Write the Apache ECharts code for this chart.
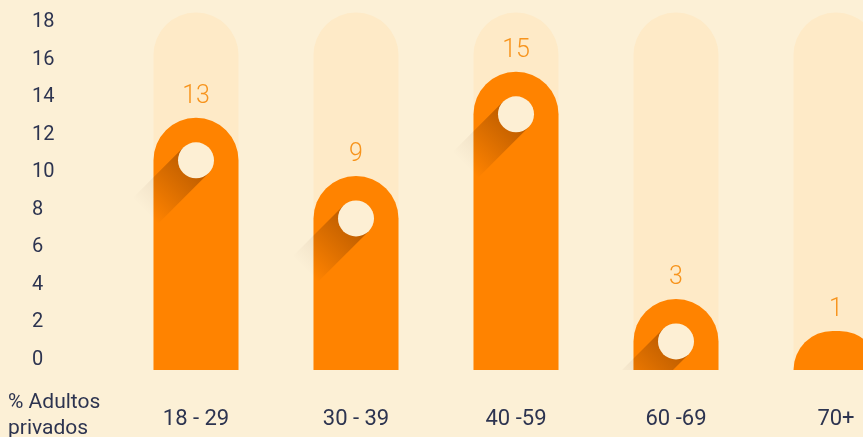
<!DOCTYPE html>
<html><head><meta charset="utf-8">
<script src="https://cdn.jsdelivr.net/npm/echarts@6/dist/echarts.min.js"></script>
<style>html,body{margin:0;padding:0;background:#fcf0d6}#c{width:863px;height:437px}</style>
</head><body><div id="c"></div>
<script>
const categories = ['18 - 29', '30 - 39', '40 -59', '60 -69', '70+'];
const barHeights = [12.9, 9.8, 15.35, 3.25, 1.55];
const valueLabels = ['13', '9', '15', '3', '1'];
const trackMax = 18.5;
const axisTitle = '% Adultos\nprivados';

const BAR_W = 85, DOT_R = 18;

function shadowPoly(cx, cy, L, alpha) {
  const k = Math.SQRT1_2;
  const p1 = [cx + DOT_R * k, cy + DOT_R * k], p2 = [cx - DOT_R * k, cy - DOT_R * k];
  const p3 = [p2[0] - L * k, p2[1] + L * k], p4 = [p1[0] - L * k, p1[1] + L * k];
  return {type: 'polygon', shape: {points: [p1, p2, p3, p4]}, style: {fill: {type: 'linear', x: cx, y: cy, x2: cx - L * k, y2: cy + L * k, global: true,
    colorStops: [{offset: 0, color: 'rgba(90,35,0,' + alpha + ')'}, {offset: 1, color: 'rgba(90,35,0,0)'}]}}};
}

function renderItem(params, api) {
  const i = api.value(0);
  const v = api.value(1);
  const base = api.coord([i, 0]);
  const cx = base[0];
  const bottom = base[1] + 10;
  const top = api.coord([i, v])[1];
  const trackTop = api.coord([i, trackMax])[1];
  const hw = BAR_W / 2;
  const children = [];
  children.push({type: 'rect', shape: {x: cx - hw, y: trackTop, width: BAR_W, height: bottom - trackTop, r: [hw, hw, 0, 0]}, style: {fill: '#feeac7'}});
  children.push({type: 'rect', shape: {x: cx - hw, y: top, width: BAR_W, height: bottom - top, r: [hw, hw, 0, 0]}, style: {fill: '#ff8300'}});
  const cy = top + hw;
  if (bottom - top > hw + DOT_R) {
    children.push({type: 'group', clipPath: {type: 'rect', shape: {x: cx - hw, y: top, width: BAR_W, height: bottom - top}},
      children: [shadowPoly(cx, cy, 72, 0.42)]});
    children.push({type: 'group', clipPath: {type: 'rect', shape: {x: cx - hw - 40, y: top, width: 40, height: bottom - top}},
      children: [shadowPoly(cx, cy, 72, 0.16)]});
    children.push({type: 'circle', shape: {cx: cx, cy: cy, r: DOT_R}, style: {fill: '#fdefd4'}});
  }
  children.push({type: 'text', style: {text: valueLabels[i], x: cx, y: top - 21, align: 'center', verticalAlign: 'middle', fill: '#f7941d', font: '300 25px Roboto'}});
  return {type: 'group', children: children};
}

const chart = echarts.init(document.getElementById('c'));
chart.setOption({
  backgroundColor: '#fcf0d6',
  animation: false,
  grid: {left: 116, right: -53, top: 22, bottom: 77, outerBoundsMode: 'none', containLabel: false},
  xAxis: {type: 'category', data: categories, axisLine: {show: false}, axisTick: {show: false},
    axisLabel: {fontSize: 22, fontFamily: 'Roboto', color: '#2d3450', margin: 48}},
  yAxis: {type: 'value', min: 0, max: 18, interval: 2, axisLine: {show: false}, axisTick: {show: false}, splitLine: {show: false},
    axisLabel: {fontSize: 20, fontFamily: 'Roboto', color: '#2d3450', align: 'left', margin: 84, padding: [8, 0, 0, 0]}},
  graphic: [{type: 'text', left: 8, top: 390, style: {text: axisTitle, font: '21px Roboto', fill: '#2d3450', lineHeight: 26}}],
  series: [{type: 'custom', renderItem: renderItem, clip: false, encode: {x: 0, y: 1},
    data: categories.map((c, i) => [i, barHeights[i]])}]
});
</script></body></html>
